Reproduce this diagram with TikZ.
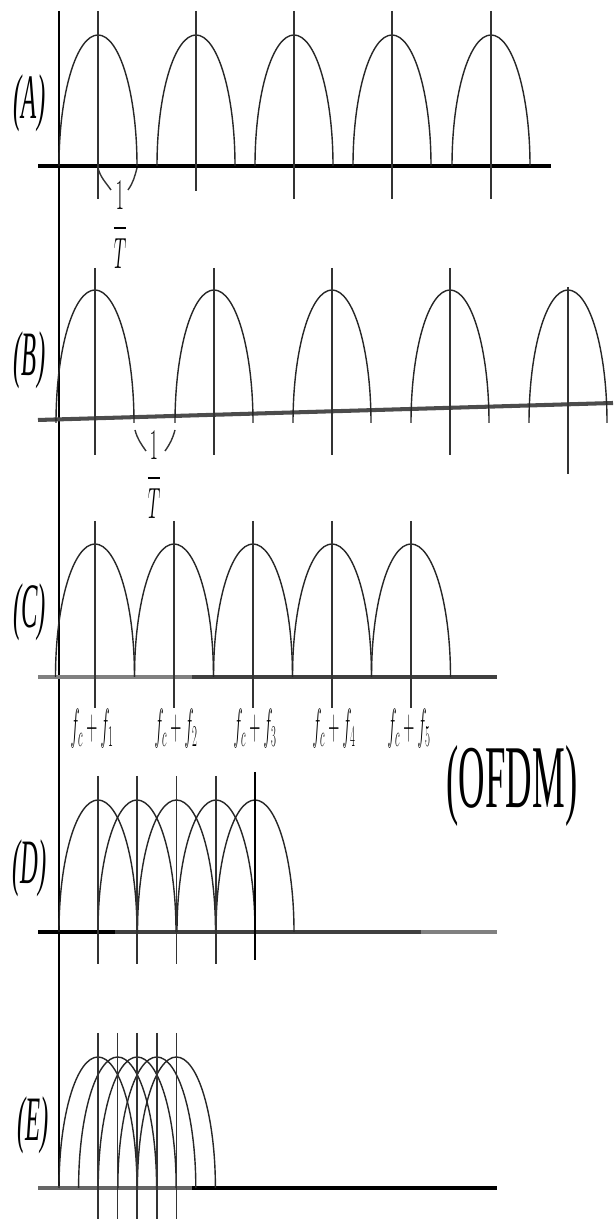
\documentclass[tikz,border=0pt]{standalone}
\usepackage{amsmath}
\usepackage{graphicx}
\usepackage{fontspec}
\setmainfont{Liberation Serif}
\newcommand{\narrow}[2][0.4]{\scalebox{#1}[1]{#2}}

\begin{document}
\begin{tikzpicture}[x=0.02cm, y=0.02cm,
                    base/.style={line width=2.3pt},
                    hump/.style={line width=0.8pt, black!85},
                    vline/.style={line width=0.8pt, black!80},
                    lbl/.style={inner sep=0pt, font=\fontsize{36}{40}\selectfont\itshape},
                    frac/.style={inner sep=0pt, font=\fontsize{25}{30}\selectfont},
                    freq/.style={inner sep=0pt, font=\fontsize{24}{28}\selectfont}]
                    \useasboundingbox (0,0) rectangle (613,1219);

                    % 纵轴
                    \draw[line width=0.9pt] (59,1208) -- (59,31);

                    % (A) 子载波间隔较大
                    \draw[base] (38,1053) -- (551,1053);
                    \foreach \c in {98,196,294,392,491}
                        \draw[hump] (\c-39,1053) arc[start angle=180, end angle=0, x radius=39, y radius=131];
                    \foreach \c/\e in {98/1020,196/1028,294/1020,392/1020,491/1020}
                        \draw[vline] (\c,1208) -- (\c,\e);
                    \draw[vline] (98,1051) to[out=-75, in=125] (111,1029);
                    \draw[vline] (137,1051) to[out=-105, in=55] (128,1029);
                    \node[frac] (fracA) at (120,994) {\narrow{$\displaystyle\frac{1}{T}$}};
                    \node[lbl] (labA) at (29.5,1116) {\narrow[0.39]{(A)}};

                    % (B)
                    \draw[base, black!70] (38,799) -- (613,816);
                    \foreach \c in {95,214,332,450,568}
                        \draw[hump] (\c-39,796) arc[start angle=180, end angle=0, x radius=39, y radius=133];
                    \foreach \c in {95,214,332,450}
                        \draw[vline] (\c,951) -- (\c,764);
                    \draw[vline] (568,932) -- (568,745);
                    \draw[vline] (135,789) to[out=-75, in=125] (146,768);
                    \draw[vline] (175,789) to[out=-105, in=55] (165,768);
                    \node[frac] (fracB) at (154,744) {\narrow{$\displaystyle\frac{1}{T}$}};
                    \node[lbl] (labB) at (29.5,859) {\narrow[0.39]{(B)}};

                    % (C) 正交子载波
                    \draw[base, black!50] (38,542) -- (192,542);
                    \draw[base, black!75] (192,542) -- (497,542);
                    \foreach \c in {95,174,253,332,411}
                        \draw[hump] (\c-39.5,542) arc[start angle=180, end angle=0, x radius=39.5, y radius=133];
                    \foreach \c in {95,174,253,332,411}
                        \draw[vline] (\c,698) -- (\c,511);
                    \foreach \x/\k in {92/1,176/2,255/3,334/4,409/5}
                        \node[freq] (f\k) at (\x,490) {\narrow[0.35]{$f_c+f_\k$}};
                    \node[lbl] (labC) at (29.5,607) {\narrow[0.39]{(C)}};
                    \node[inner sep=0pt, font=\fontsize{51}{56}\selectfont] (ofdm) at (512,433) {\narrow[0.41]{(OFDM)}};

                    % (D) 子载波重叠
                    \draw[base] (38,287) -- (115,287);
                    \draw[base, black!75] (115,287) -- (421,287);
                    \draw[base, black!50] (421,287) -- (497,287);
                    \foreach \c in {98,137,176.5,216,255}
                        \draw[hump] (\c-39,287) arc[start angle=180, end angle=0, x radius=39, y radius=132];
                    \foreach \c in {98,137,176.5,216}
                        \draw[vline] (\c,443) -- (\c,255);
                    \draw[line width=1.6pt] (255,447) -- (255,259);
                    \node[lbl] (labD) at (29.5,351) {\narrow[0.39]{(D)}};

                    % (E) 更密集
                    \draw[base, black!60] (38,31) -- (192,31);
                    \draw[base] (192,31) -- (497,31);
                    \foreach \c in {98,117.6,137.2,156.8,176.4}
                        \draw[hump] (\c-39,31) arc[start angle=180, end angle=0, x radius=39, y radius=131];
                    \foreach \c in {98,117.6,137.2,156.8,176.4}
                        \draw[vline] (\c,186) -- (\c,0);
                    \node[lbl] (labE) at (33,94) {\narrow[0.39]{(E)}};
                \end{tikzpicture}
\end{document}
